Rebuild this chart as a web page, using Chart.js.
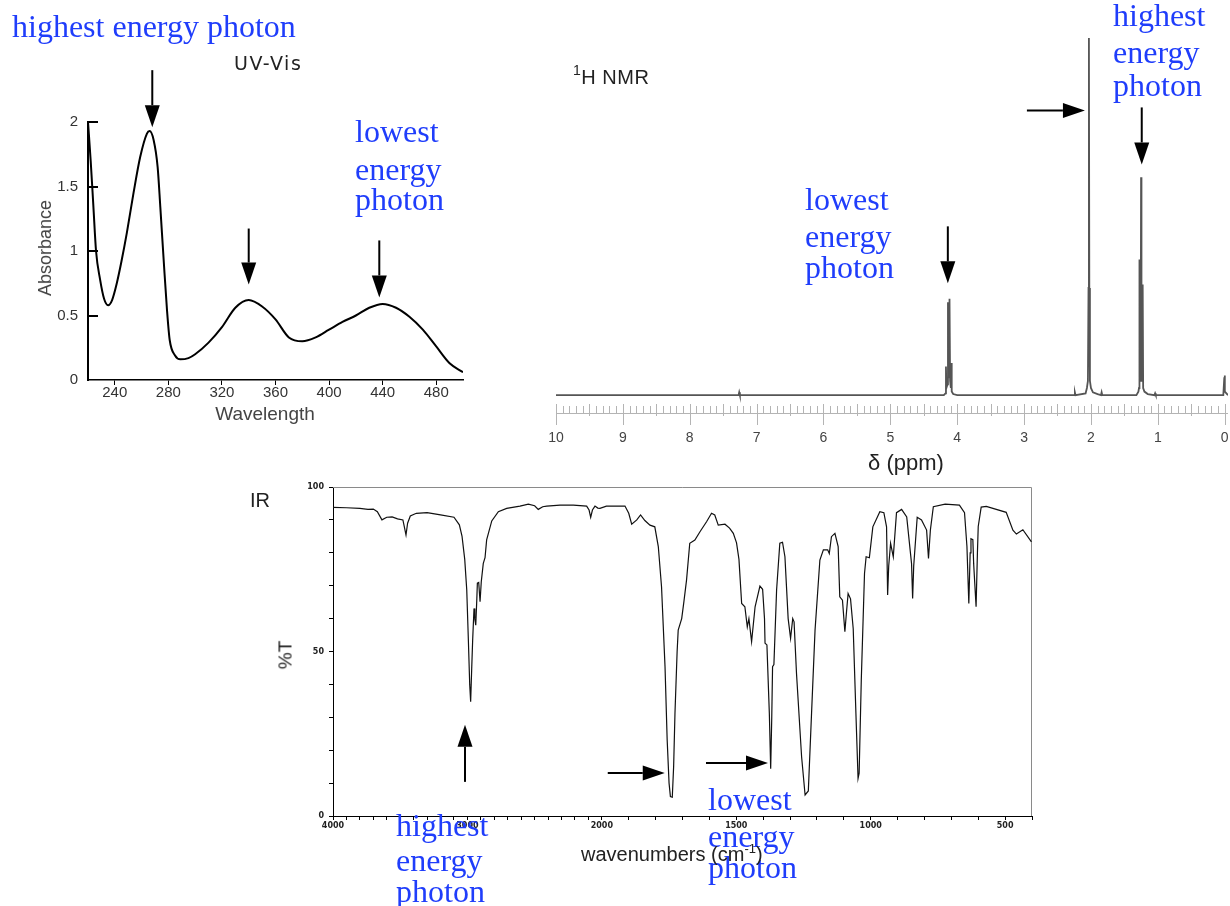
<!DOCTYPE html>
<html><head><meta charset="utf-8">
<script src="https://cdn.jsdelivr.net/npm/chart.js@4.4.1/dist/chart.umd.min.js"></script>
<style>
html,body{margin:0;padding:0;background:#fff;}
body{width:1230px;height:906px;position:relative;overflow:hidden;font-family:"Liberation Sans",Arial,sans-serif;}
canvas{position:absolute;}
.t{position:absolute;white-space:nowrap;line-height:1;}
.blue{font-family:"Liberation Serif","Times New Roman",serif;font-size:32px;color:#1f3dfb;}
.lab{color:#222;}
</style></head><body>
<canvas id="uv" width="520" height="440" style="left:0;top:0;width:520px;height:440px"></canvas>
<canvas id="nmr" width="690" height="480" style="left:540px;top:0;width:690px;height:480px"></canvas>
<canvas id="ir" width="800" height="436" style="left:240px;top:470px;width:800px;height:436px"></canvas>

<div class="t blue" style="left:12px;top:10px">highest energy photon</div>
<div class="t blue" style="left:355px;top:115px">lowest</div>
<div class="t blue" style="left:355px;top:153px">energy</div>
<div class="t blue" style="left:355px;top:183px">photon</div>

<div class="t blue" style="left:1113px;top:-1px">highest</div>
<div class="t blue" style="left:1113px;top:36px">energy</div>
<div class="t blue" style="left:1113px;top:69px">photon</div>
<div class="t blue" style="left:805px;top:183px">lowest</div>
<div class="t blue" style="left:805px;top:220px">energy</div>
<div class="t blue" style="left:805px;top:251px">photon</div>

<div class="t blue" style="left:396px;top:809px">highest</div>
<div class="t blue" style="left:396px;top:844px">energy</div>
<div class="t blue" style="left:396px;top:875px">photon</div>
<div class="t blue" style="left:708px;top:783px">lowest</div>
<div class="t blue" style="left:708px;top:820px">energy</div>
<div class="t blue" style="left:708px;top:851px">photon</div>

<div class="t lab" style="left:234px;top:63px;transform:translateY(-50%);font-family:'DejaVu Sans';font-size:19px;letter-spacing:1.5px">UV-Vis</div>
<div class="t" style="left:45px;top:248px;transform:translate(-50%,-50%) rotate(-90deg);font-size:18px;color:#444">Absorbance</div>
<div class="t" style="left:265px;top:413px;transform:translate(-50%,-50%);font-size:19px;color:#444">Wavelength</div>

<div class="t lab" style="left:573px;top:75px;transform:translateY(-50%);font-size:20px;letter-spacing:0.5px"><sup style="font-size:14px;vertical-align:9px">1</sup>H NMR</div>
<div class="t lab" style="left:906px;top:463px;transform:translate(-50%,-50%);font-size:22px">δ (ppm)</div>

<div class="t lab" style="left:250px;top:500px;transform:translateY(-50%);font-size:20px">IR</div>
<div class="t lab" style="left:285px;top:655px;transform:translate(-50%,-50%) rotate(-90deg);font-size:19px">%T</div>
<div class="t lab" style="left:581px;top:853px;transform:translateY(-50%);font-size:20px">wavenumbers (cm<sup style="font-size:13px;vertical-align:8px">-1</sup>)</div>

<script>
// ---------------- UV-Vis data ----------------
const uvWavelength = [220,222,224,226,229,232,235,238,241.5,245,249,254,259,264,266,269,272,274,276.5,279,281,285,289,295,300,310,320,330,340,350,360,370,380,390,400,410,420,430,440,450,460,470,480,490,500];
const uvAbsorbance = [2.0,1.7,1.35,1.0,0.78,0.63,0.58,0.62,0.75,0.92,1.14,1.45,1.73,1.91,1.93,1.86,1.65,1.34,0.93,0.54,0.31,0.19,0.16,0.17,0.2,0.29,0.41,0.56,0.62,0.57,0.47,0.33,0.30,0.33,0.39,0.45,0.50,0.56,0.59,0.56,0.49,0.39,0.26,0.13,0.06];
const uvXTicks = [240,280,320,360,400,440,480];
const uvYTicks = [0,0.5,1,1.5,2];

// ---------------- 1H NMR data (trace vertices: ppm, relative intensity) ----------------
const nmrPpm = [10,7.27,7.26,7.25,4.2,4.175,4.168,4.162,4.145,4.138,4.13,4.122,4.115,4.106,4.095,4.088,4.082,4.06,4.0,2.25,2.24,2.23,2.08,2.06,2.045,2.036,2.03,2.024,2.015,2.0,1.97,1.9,1.85,1.84,1.83,1.32,1.29,1.281,1.274,1.266,1.256,1.25,1.244,1.234,1.226,1.219,1.2,1.15,1.05,1.04,1.03,0.02,0.005,0,-0.005,-0.05];
const nmrIntensity = [0,0,0.8,0,0,0.5,8,2,3,26,5,5,27,4,2,9,1,0.3,0,0,0.8,0,0.5,2,4,30,100,30,4,2,0.8,0.3,0,0.8,0,0,1,2,38,4,5,61,5,4,31,2,1,0.3,0,0.5,0,0,5,5.5,1,0];
const nmrTickLabels = [10,9,8,7,6,5,4,3,2,1,0];

// ---------------- IR data ----------------
const irWavenumber = [4000,3900,3800,3740,3700,3670,3636,3600,3560,3520,3480,3470,3457,3445,3425,3380,3300,3200,3100,3060,3040,3020,3005,2993,2983,2976,2968,2961,2951,2945,2938,2930,2926,2916,2906,2897,2882,2869,2857,2819,2770,2708,2609,2547,2500,2473,2440,2410,2311,2212,2113,2095,2083,2070,2051,2030,2014,1983,1914,1900,1889,1870,1856,1840,1821,1803,1790,1778,1765,1757,1750,1745,1738,1733,1728,1720,1716,1703,1695,1685,1673,1654,1635,1610,1592,1580,1567,1542,1525,1511,1499,1490,1480,1468,1459,1453,1443,1430,1412,1402,1395,1393,1386,1377,1372,1368,1365,1360,1350,1338,1328,1319,1307,1298,1290,1285,1276,1257,1244,1232,1220,1207,1189,1176,1160,1154,1146,1133,1121,1115,1105,1096,1090,1084,1075,1065,1055,1047,1043,1035,1023,1017,1005,992,966,951,941,937,933,926,916,904,885,866,848,844,840,827,811,792,785,778,767,723,670,651,642,635,630,627,620,617,608,603,600,589,570,496,471,458,434,402];
const irTransmittance = [93.8,93.7,93.5,93.2,93.3,92.5,90.0,90.8,90.9,90.3,90.0,88,85.4,89,91.2,92.0,92.2,91.5,90.8,88.5,85,78,68.7,53.5,40,34.7,45,53.5,63.1,60,58,66,70.8,71,65.1,71.2,76.8,78.5,83.9,89.7,92.5,93.5,94.2,94.8,94.3,93.2,94,94.2,94.5,94.5,94.2,93,90.8,93,94.2,93.6,93.5,94.2,94.2,92,88.7,90,91.5,89.8,88.4,87.9,81.9,69.7,45.4,23.1,10,5.9,5.7,15,31.2,50,56.5,60,65,71.7,82.9,83.9,86.4,89.5,92,91.5,88.4,88.7,87.5,85.9,83,78,64.6,63.6,57.5,60,53,63.6,69.9,68.9,60,52.5,52,31.2,14.4,30,45.4,46,68.7,82.9,83.2,78.8,60,54,60,59,43.4,18,6.4,7.6,31.2,56.5,77.8,80.9,80.9,79.8,84.9,85.9,81.9,66.6,65.6,56,62,67.6,66,56.9,31.2,11.4,13,41.3,73.7,78.8,78.5,87.9,92.5,92.2,87.9,67.2,76,82.9,78.8,92.2,93.2,90.9,76.7,66.1,76,90.8,90,86.9,78.3,86.9,94,94.8,94.5,92.2,81.9,64.6,80,84.3,84,76.7,63.6,80,88,93.9,94.1,92.3,86.9,85.7,87,83.3];
const irTickLabels = [4000,3000,2000,1500,1000,500];
const irYTicks = [0,10,20,30,40,50,60,70,80,90,100];

// annotation arrow tips, in data coordinates
const uvArrows = [{x:268,y:1.96,dir:'down',len:57},{x:340,y:0.74,dir:'down',len:56},{x:437.5,y:0.64,dir:'down',len:57}];
const nmrArrows = [{x:2.09,y:79.7,dir:'right',len:58},{x:1.24,y:64.6,dir:'down',len:57},{x:4.14,y:31.3,dir:'down',len:57}];
const irArrows = [{x:3018,y:27.7,dir:'up',len:57},{x:1766,y:13.1,dir:'right',len:57},{x:1382,y:16.1,dir:'right',len:62}];

// IR axis: wavenumbers above 2000 are compressed 2x (standard IR chart format)
const irU = w => (w <= 2000 ? w : 2000 + (w - 2000) / 2);
const irW = u => (u <= 2000 ? u : 2000 + 2 * (u - 2000));

Chart.defaults.font.family = "'Liberation Sans', Arial, sans-serif";
Chart.defaults.animation = false;
Chart.defaults.plugins.legend.display = false;
Chart.defaults.plugins.tooltip.enabled = false;

function zeroPad(scale){ scale.paddingLeft = 0; scale.paddingRight = 0; scale.paddingTop = 0; scale.paddingBottom = 0; }

function arrowPlugin(id, arrows, xmap){
  return { id, afterDraw(chart){
    const ctx = chart.ctx, xs = chart.scales.x, ys = chart.scales.y;
    ctx.save();
    ctx.strokeStyle = '#000'; ctx.fillStyle = '#000'; ctx.lineWidth = 2;
    arrows.forEach(a => {
      const tx = xs.getPixelForValue(xmap ? xmap(a.x) : a.x), ty = ys.getPixelForValue(a.y);
      let dx = 0, dy = 0;
      if (a.dir === 'down') dy = -1; else if (a.dir === 'up') dy = 1; else if (a.dir === 'right') dx = -1;
      const H = 22, W = 7.5;
      const sx = tx + dx * a.len, sy = ty + dy * a.len, bx = tx + dx * H, by = ty + dy * H;
      ctx.beginPath(); ctx.moveTo(sx, sy); ctx.lineTo(bx, by); ctx.stroke();
      const px = -dy, py = dx;
      ctx.beginPath(); ctx.moveTo(tx, ty); ctx.lineTo(bx + px * W, by + py * W); ctx.lineTo(bx - px * W, by - py * W); ctx.closePath(); ctx.fill();
    });
    ctx.restore();
  }};
}

// ---------------- UV chart ----------------
const uvInner = { id:'uvInner', afterDraw(chart){
  const y = chart.scales.y, ctx = chart.ctx, l = chart.chartArea.left;
  ctx.save(); ctx.strokeStyle = '#000'; ctx.lineWidth = 2;
  uvYTicks.forEach(v => { if (v === 0) return; const py = Math.round(y.getPixelForValue(v));
    ctx.beginPath(); ctx.moveTo(l, py); ctx.lineTo(l + 10, py); ctx.stroke(); });
  ctx.restore();
}};
new Chart(document.getElementById('uv'), {
  type: 'line',
  data: { datasets: [{ data: uvWavelength.map((w, i) => ({x: w, y: uvAbsorbance[i]})), borderColor: '#000', borderWidth: 2, pointRadius: 0, cubicInterpolationMode: 'monotone' }] },
  options: {
    responsive: false,
    layout: { padding: { left: 0, top: 122, right: 57, bottom: 0 } },
    scales: {
      x: { type: 'linear', min: 220, max: 500,
        afterBuildTicks: s => { s.ticks = uvXTicks.map(v => ({value: v})); },
        afterFit: s => { s.height = 60; zeroPad(s); },
        grid: { drawOnChartArea: false, tickLength: 5, color: '#000', lineWidth: 1 },
        border: { color: '#000', width: 1.5 },
        ticks: { padding: -1, color: '#333', font: { size: 15 }, maxRotation: 0, autoSkip: false } },
      y: { min: 0, max: 2,
        afterBuildTicks: s => { s.ticks = uvYTicks.map(v => ({value: v})); },
        afterFit: s => { s.width = 88; zeroPad(s); },
        grid: { drawOnChartArea: false, drawTicks: false },
        border: { color: '#000', width: 2 },
        ticks: { padding: 10, color: '#333', font: { size: 15 }, callback: v => String(v) } }
    }
  },
  plugins: [uvInner, arrowPlugin('uvArrows', uvArrows)]
});

// ---------------- NMR chart ----------------
const nmrRuler = { id:'nmrRuler', beforeDatasetsDraw(chart){
  const xs = chart.scales.x, ctx = chart.ctx, yl = chart.chartArea.bottom;
  ctx.save(); ctx.strokeStyle = '#b4b4b4'; ctx.lineWidth = 1;
  ctx.beginPath(); ctx.moveTo(xs.left, yl + 0.5); ctx.lineTo(xs.right, yl + 0.5); ctx.stroke();
  for (let i = 0; i <= 100; i++) {
    const px = Math.round(xs.getPixelForValue(i / 10)) + 0.5;
    ctx.beginPath();
    if (i % 10 === 0) { ctx.moveTo(px, yl - 9); ctx.lineTo(px, yl + 12); }
    else if (i % 5 === 0) { ctx.moveTo(px, yl - 9); ctx.lineTo(px, yl + 3); }
    else { ctx.moveTo(px, yl - 7); ctx.lineTo(px, yl); }
    ctx.stroke();
  }
  ctx.restore();
}};
new Chart(document.getElementById('nmr'), {
  type: 'line',
  data: { datasets: [{ data: nmrPpm.map((p, i) => ({x: p, y: nmrIntensity[i]})), borderColor: '#555', borderWidth: 1.8, pointRadius: 0, tension: 0 }] },
  options: {
    responsive: false,
    layout: { padding: { left: 16, top: 38, right: 2, bottom: 0 } },
    scales: {
      x: { type: 'linear', min: -0.05, max: 10, reverse: true,
        afterBuildTicks: s => { s.ticks = nmrTickLabels.map(v => ({value: v})); },
        afterFit: s => { s.height = 67; zeroPad(s); },
        grid: { display: false }, border: { display: false },
        ticks: { padding: 9, color: '#444', font: { size: 14 }, maxRotation: 0, autoSkip: false, callback: v => String(v) } },
      y: { display: false, min: -5, max: 100, afterFit: s => { s.width = 0; zeroPad(s); } }
    }
  },
  plugins: [nmrRuler, arrowPlugin('nmrArrows', nmrArrows)]
});

// ---------------- IR chart ----------------
const irBox = { id:'irBox', beforeDatasetsDraw(chart){
  const a = chart.chartArea, ctx = chart.ctx;
  ctx.save(); ctx.strokeStyle = '#8a8a8a'; ctx.lineWidth = 1;
  ctx.beginPath(); ctx.moveTo(a.left, a.top + 0.5); ctx.lineTo(a.right - 0.5, a.top + 0.5); ctx.lineTo(a.right - 0.5, a.bottom); ctx.stroke();
  ctx.restore();
}};
const irMinor = [];
for (let w = 4000; w >= 400; w -= 100) irMinor.push(w);
new Chart(document.getElementById('ir'), {
  type: 'line',
  data: { datasets: [{ data: irWavenumber.map((w, i) => ({x: irU(w), y: irTransmittance[i]})), borderColor: '#111', borderWidth: 1.2, pointRadius: 0, tension: 0 }] },
  options: {
    responsive: false,
    layout: { padding: { left: 0, top: 17, right: 8, bottom: 0 } },
    scales: {
      x: { type: 'linear', min: irU(400), max: irU(4000), reverse: true,
        afterBuildTicks: s => { s.ticks = irMinor.map(w => ({value: irU(w)})); },
        afterFit: s => { s.height = 90; zeroPad(s); },
        grid: { drawOnChartArea: false, tickLength: 4, color: '#000' },
        border: { color: '#000', width: 1 },
        ticks: { padding: 1, color: '#222', font: { size: 8, weight: 'bold', family: "'DejaVu Sans'" }, maxRotation: 0, autoSkip: false,
          callback: v => { const w = Math.round(irW(v)); return irTickLabels.includes(w) ? String(w) : ''; } } },
      y: { min: 0, max: 100,
        afterBuildTicks: s => { s.ticks = irYTicks.map(v => ({value: v})); },
        afterFit: s => { s.width = 93; zeroPad(s); },
        grid: { drawOnChartArea: false, tickLength: 4, color: '#000' },
        border: { color: '#000', width: 1 },
        ticks: { padding: 5, color: '#222', font: { size: 8, weight: 'bold', family: "'DejaVu Sans'" }, autoSkip: false,
          callback: v => (v % 50 === 0 ? String(v) : '') } }
    }
  },
  plugins: [irBox, arrowPlugin('irArrows', irArrows, irU)]
});
</script>
</body></html>
